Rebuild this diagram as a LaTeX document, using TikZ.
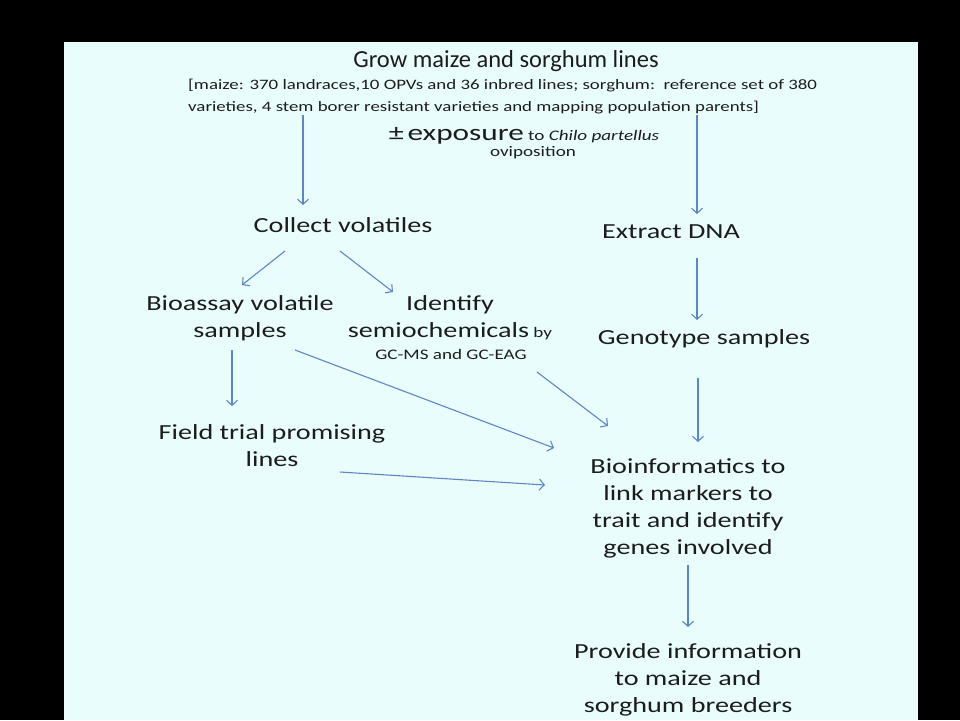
\documentclass[tikz,border=0pt]{standalone}
\usepackage{fontspec}
\setmainfont{Carlito}[FakeStretch=1.31]
\newfontfamily\titrefont{Carlito}
\newfontfamily\expofont{Carlito}[FakeStretch=1.36]
\usetikzlibrary{arrows.meta}
\usetikzlibrary{positioning}
\definecolor{fond}{RGB}{234,253,253}
\definecolor{bleu}{RGB}{93,135,196}
\definecolor{texte}{RGB}{28,28,30}
\tikzstyle{lien} = [-{Straight Barb[length=5pt,width=11pt]},draw=bleu,line width=1.1pt]
\tikzstyle{etape} = [text=texte,align=center,inner sep=0pt,font=\fontsize{21.5}{27}\selectfont]
\tikzstyle{detail} = [text=texte,align=center,inner sep=0pt,font=\fontsize{14.6}{18}\selectfont]

\begin{document}
\begin{tikzpicture}[x=1pt,y=-1pt]
	\fill[black] (0,0) rectangle (960,720);
	\fill[fond] (64,42) rectangle (918,720);

	\node[etape,font=\titrefont\fontsize{24.5}{30}\selectfont] (G) at (506,61) {Grow maize and sorghum lines};
	\node[detail,align=left,anchor=west,font=\fontsize{14.4}{22}\selectfont] (M) at (188,97) {[maize: 370 landraces,10 OPVs and 36 inbred lines; sorghum:\ \ reference set of 380\\varieties, 4 stem borer resistant varieties and mapping population parents]};

	\node[detail] (E) at (524,136) {{\fontsize{23}{27}\selectfont ±\,\expofont exposure} to \textit{Chilo partellus}};
	\node[detail] (O) at (533,153) {oviposition};

	\node[etape] (CV) at (343,225) {Collect volatiles};
	\node[etape] (DNA) at (671,232) {Extract DNA};

	\node[etape] (BA) at (240,318) {Bioassay volatile\\samples};
	\node[etape] (ID) at (450,318) {Identify\\semiochemicals{\fontsize{14.6}{18}\selectfont\ by}};
	\node[detail] (GC) at (451,354) {GC-MS and GC-EAG};
	\node[etape] (GT) at (704,339) {Genotype samples};

	\node[etape] (FT) at (272,446) {Field trial promising\\lines};
	\node[etape] (BI) at (688,508) {Bioinformatics to\\link markers to\\trait and identify\\genes involved};
	\node[etape] (PI) at (688,680) {Provide information\\to maize and\\sorghum breeders};

	% bouts des fleches
	\coordinate (MG) at (303,115);
	\coordinate (CVh) at (303,205);
	\coordinate (MD) at (697,115);
	\coordinate (DNAh) at (697,214);
	\coordinate (CVg) at (285,251);
	\coordinate (BAh) at (242,285);
	\coordinate (CVd) at (340,251);
	\coordinate (IDh) at (393,292);
	\coordinate (DNAb) at (697,258);
	\coordinate (GTh) at (697,320);
	\coordinate (BAb) at (232,350);
	\coordinate (FTh) at (232,406);
	\coordinate (BAd) at (295,350);
	\coordinate (BIg) at (554,448);
	\coordinate (GCb) at (537,372);
	\coordinate (BIh) at (608,426);
	\coordinate (GTb) at (698,378);
	\coordinate (BIhd) at (698,442);
	\coordinate (FTd) at (340,472);
	\coordinate (BIgb) at (545,485);
	\coordinate (BIb) at (688,565);
	\coordinate (PIh) at (688,627);

	\draw[lien] (MG) -- (CVh);
	\draw[lien] (MD) -- (DNAh);
	\draw[lien] (CVg) -- (BAh);
	\draw[lien] (CVd) -- (IDh);
	\draw[lien] (DNAb) -- (GTh);
	\draw[lien] (BAb) -- (FTh);
	\draw[lien] (BAd) -- (BIg);
	\draw[lien] (GCb) -- (BIh);
	\draw[lien] (GTb) -- (BIhd);
	\draw[lien] (FTd) -- (BIgb);
	\draw[lien] (BIb) -- (PIh);
\end{tikzpicture}
\end{document}
